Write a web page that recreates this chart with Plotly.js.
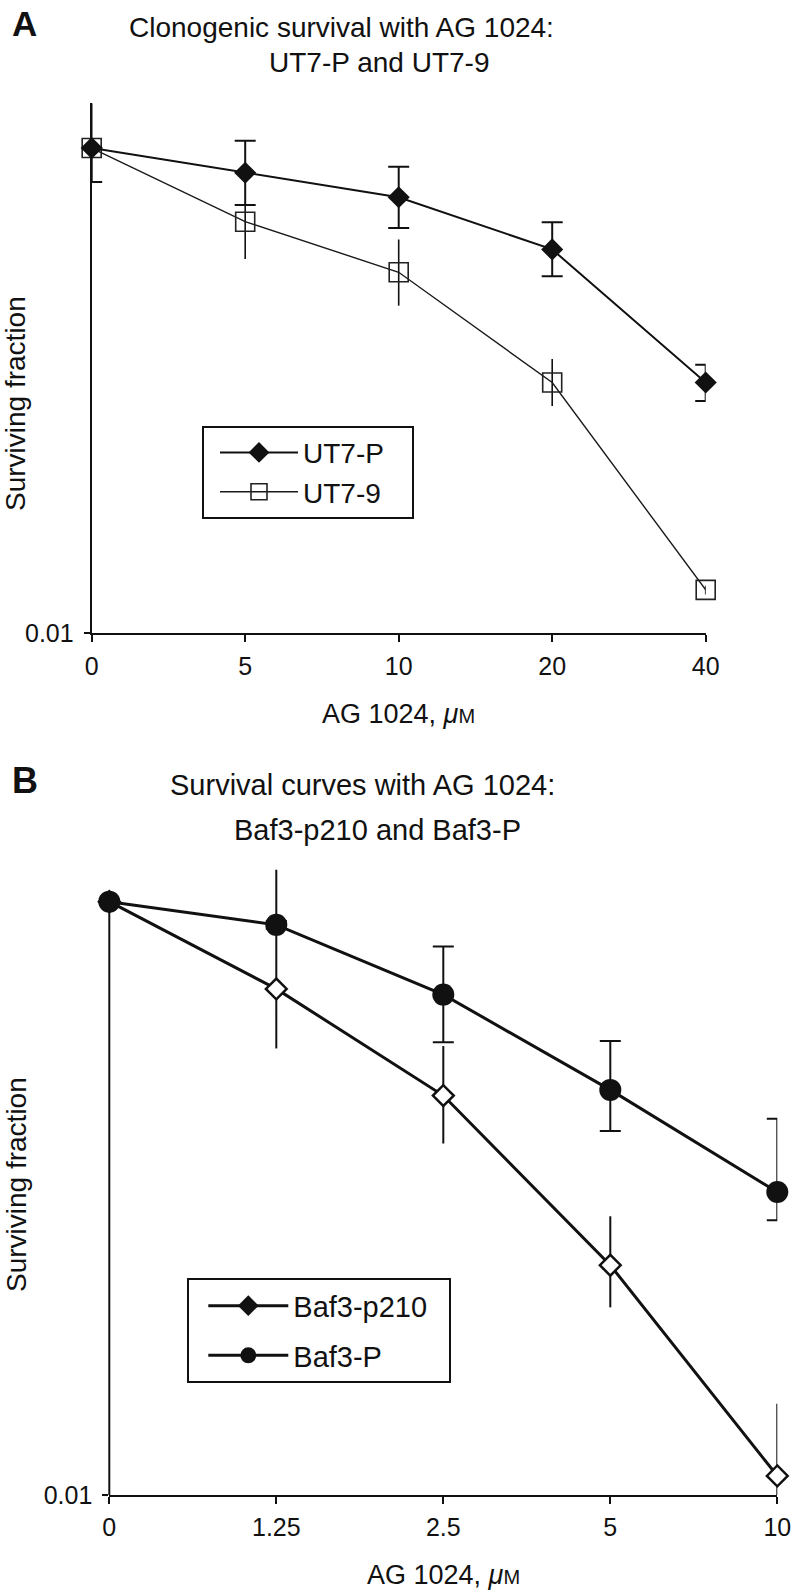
<!DOCTYPE html>
<html>
<head>
<meta charset="utf-8">
<script src="https://cdn.plot.ly/plotly-3.0.1.min.js"></script>
<style>html,body{margin:0;padding:0;background:#fff;}#chart{width:791px;height:1594px;}</style>
</head>
<body>
<div id="chart"></div>
<script>
// ---- Panel A data ----
const dosesA = ['0', '5', '10', '20', '40'];
const ut7pVal = [1.0, 0.791, 0.627, 0.382, 0.108];
const ut7pHi  = [1.0, 1.072, 0.837, 0.494, 0.128];
const ut7pLo  = [0.724, 0.582, 0.468, 0.296, 0.0906];
const ut79Val = [1.0, 0.497, 0.3075, 0.108, 0.0151];
const ut79Hi  = [1.53, 0.582, 0.420, 0.135, 0.0157];
const ut79Lo  = [1.0, 0.349, 0.224, 0.0865, 0.01445];

// ---- Panel B data ----
const dosesB = ['0', '1.25', '2.5', '5', '10'];
const p210Val = [1.0, 0.508, 0.222, 0.0595, 0.0116];
const p210Hi  = [1.0, 1.28, 0.326, 0.087, 0.0203];
const p210Lo  = [1.0, 0.320, 0.153, 0.0429, 0.0095];
const bafPVal = [1.0, 0.835, 0.486, 0.232, 0.105];
const bafPHi  = [1.0, 0.86, 0.706, 0.339, 0.1855];
const bafPLo  = [1.0, 0.81, 0.336, 0.1685, 0.0843];

const yTickVals = [0.01];
const yTickText = ['0.01'];
const yRangeA = [-2, 0.1855];
const yRangeB = [-2, 0.11];

const FONT = 'Liberation Sans, Arial, Helvetica, sans-serif';
const INK = '#111';
const W = 791, H = 1594;
const px = v => v / W;
const py = v => 1 - v / H;
const NB = '\u00A0';

const up = (hi, v) => hi.map((h, i) => h - v[i]);
const dn = (lo, v) => lo.map((l, i) => v[i] - l);

const traces = [
  {
    x: dosesA, y: ut79Val, name: 'UT7-9' + NB + NB + NB, type: 'scatter', mode: 'lines+markers',
    xaxis: 'x', yaxis: 'y', legend: 'legend', cliponaxis: false,
    line: {color: '#1a1a1a', width: 1.4},
    marker: {symbol: 'square-open', size: 19, color: '#222', line: {width: 1.6, color: '#222'}},
    error_y: {type: 'data', symmetric: false, array: up(ut79Hi, ut79Val), arrayminus: dn(ut79Lo, ut79Val),
              color: INK, thickness: 1.6, width: 0},
    legendrank: 2
  },
  {
    x: dosesA, y: ut7pVal, name: 'UT7-P' + NB + NB + NB, type: 'scatter', mode: 'lines+markers',
    xaxis: 'x', yaxis: 'y', legend: 'legend', cliponaxis: false,
    line: {color: INK, width: 2},
    marker: {symbol: 'diamond', size: 17, color: INK, line: {width: 0}},
    error_y: {type: 'data', symmetric: false, array: up(ut7pHi, ut7pVal), arrayminus: dn(ut7pLo, ut7pVal),
              color: INK, thickness: 2, width: 10.5},
    legendrank: 1
  },
  {
    x: dosesB, y: p210Val, name: 'Baf3-p210', type: 'scatter', mode: 'lines+markers',
    xaxis: 'x2', yaxis: 'y2', showlegend: false, cliponaxis: false,
    line: {color: INK, width: 3},
    marker: {symbol: 'diamond', size: 16, color: '#fff', line: {width: 2.5, color: INK}},
    error_y: {type: 'data', symmetric: false, array: up(p210Hi, p210Val), arrayminus: dn(p210Lo, p210Val),
              color: INK, thickness: 2, width: 0}
  },
  {
    x: dosesB, y: bafPVal, name: 'Baf3-P' + NB + NB, type: 'scatter', mode: 'lines+markers',
    xaxis: 'x2', yaxis: 'y2', legend: 'legend2', legendgroup: 'g2', cliponaxis: false,
    line: {color: INK, width: 3},
    marker: {symbol: 'circle', size: 22, color: INK},
    error_y: {type: 'data', symmetric: false, array: up(bafPHi, bafPVal), arrayminus: dn(bafPLo, bafPVal),
              color: INK, thickness: 2, width: 10.5},
    legendrank: 2
  },
  {
    // key entry for Baf3-p210 (the original key shows a filled diamond)
    x: [null], y: [null], name: 'Baf3-p210' + NB + NB, type: 'scatter', mode: 'lines+markers',
    xaxis: 'x2', yaxis: 'y2', legend: 'legend2', legendgroup: 'g1',
    line: {color: INK, width: 3},
    marker: {symbol: 'diamond', size: 16, color: INK},
    legendrank: 1
  }
];

const axisCommon = {
  showline: true, linecolor: INK, linewidth: 2, mirror: false,
  showgrid: false, zeroline: false, ticks: 'outside', ticklen: 7, tickwidth: 2, tickcolor: INK,
  layer: 'below traces', fixedrange: true,
  tickfont: {family: FONT, size: 25, color: INK}
};

const xTitle = 'AG 1024, <i>μ</i><span style="font-size:20px">M</span>';
const yTitle = 'Surviving fraction';

const ann = (text, x, y, size, extra) => Object.assign({
  text: text, xref: 'paper', yref: 'paper', x: px(x), y: py(y), xanchor: 'left', yanchor: 'middle',
  showarrow: false, font: {family: FONT, size: size, color: INK}
}, extra || {});

const layout = {
  width: W, height: H,
  margin: {l: 0, r: 0, t: 0, b: 0},
  paper_bgcolor: '#fff', plot_bgcolor: 'rgba(0,0,0,0)',
  font: {family: FONT, color: INK},
  showlegend: true,
  xaxis: Object.assign({}, axisCommon, {
    type: 'category', range: [0, 4], domain: [px(91.7), px(705.7)], anchor: 'y', ticklabelstandoff: 3
  }),
  yaxis: Object.assign({}, axisCommon, {
    type: 'log', range: yRangeA, domain: [py(633.3), py(103)], anchor: 'x',
    tickvals: yTickVals, ticktext: yTickText, ticklen: 6, ticklabelstandoff: 5
  }),
  xaxis2: Object.assign({}, axisCommon, {
    type: 'category', range: [0, 4], domain: [px(109.3), px(777.3)], anchor: 'y2', ticklabelstandoff: 2
  }),
  yaxis2: Object.assign({}, axisCommon, {
    type: 'log', range: yRangeB, domain: [py(1495), py(869)], anchor: 'x2', showline: false,
    tickvals: yTickVals, ticktext: yTickText, ticklen: 6, ticklabelstandoff: 5
  }),
  shapes: [
    // y axis line of panel B, from 0.01 up to a surviving fraction of 1
    {type: 'line', xref: 'x2 domain', yref: 'y2 domain', x0: 0, x1: 0, y0: 0,
     y1: (0 - yRangeB[0]) / (yRangeB[1] - yRangeB[0]), line: {color: INK, width: 2}, layer: 'below'}
  ],
  legend: {
    x: px(202.3), y: py(425.7), xanchor: 'left', yanchor: 'top',
    bgcolor: '#fff', bordercolor: INK, borderwidth: 2, indentation: 10.7,
    font: {family: FONT, size: 28, color: INK}, itemwidth: 78, traceorder: 'normal'
  },
  legend2: {
    x: px(186.7), y: py(1278.3), xanchor: 'left', yanchor: 'top',
    bgcolor: '#fff', bordercolor: INK, borderwidth: 2, indentation: 14.6,
    font: {family: FONT, size: 29, color: INK}, itemwidth: 80, traceorder: 'grouped', tracegroupgap: 9
  },
  annotations: [
    ann('<b>A</b>', 10, 23, 35),
    ann('Clonogenic survival with AG 1024:', 127, 27.5, 28),
    ann('UT7-P and UT7-9', 266.5, 62, 28),
    ann(xTitle, 398.7, 713.7, 27, {xanchor: 'center'}),
    ann(yTitle, 16, 404, 28, {xanchor: 'center', textangle: -90}),
    ann('<b>B</b>', 10, 780, 36),
    ann('Survival curves with AG 1024:', 168, 785, 29),
    ann('Baf3-p210 and Baf3-P', 232, 829.7, 29),
    ann(xTitle, 443.3, 1575, 27, {xanchor: 'center'}),
    ann(yTitle, 16, 1185, 28, {xanchor: 'center', textangle: -90})
  ]
};

Plotly.newPlot('chart', traces, layout, {displayModeBar: false, staticPlot: true});
</script>
</body>
</html>
